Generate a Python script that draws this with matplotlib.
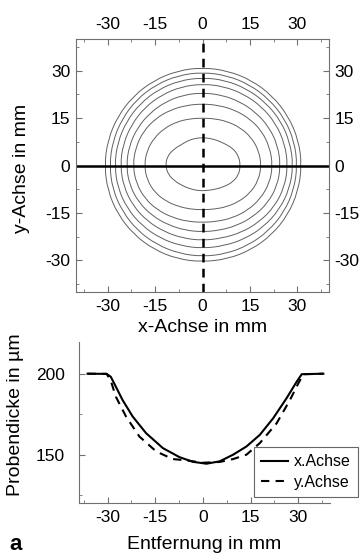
import numpy as np
import matplotlib
matplotlib.use("Agg")
import matplotlib.pyplot as plt
from matplotlib.ticker import MultipleLocator
from matplotlib.path import Path
from matplotlib.patches import PathPatch

plt.rcParams['font.family'] = ['Liberation Sans', 'DejaVu Sans']
plt.rcParams['axes.unicode_minus'] = False

# contour lines of the top map, radius (mm) read every 15 degrees, starting on +x, counter-clockwise
contour_angles = list(range(0, 360, 15))
contour_1 = [31.4, 31.4, 31.3, 31.2, 31.1, 31.0, 31.0, 31.0, 31.0, 31.0, 31.0, 31.0,
             31.0, 31.0, 30.9, 30.8, 30.7, 30.6, 30.5, 30.6, 30.8, 31.0, 31.2, 31.3]
contour_2 = [30.0, 30.0, 29.9, 29.7, 29.6, 29.5, 29.5, 29.5, 29.5, 29.5, 29.4, 29.4,
             29.4, 29.4, 29.2, 29.1, 28.9, 28.8, 28.8, 28.9, 29.1, 29.4, 29.7, 29.9]
contour_3 = [28.7, 28.6, 28.5, 28.2, 28.0, 27.9, 27.8, 27.8, 27.8, 27.8, 27.8, 27.8,
             27.8, 27.7, 27.4, 27.0, 26.6, 26.3, 26.2, 26.3, 26.8, 27.4, 28.0, 28.5]
contour_4 = [27.0, 26.9, 26.7, 26.4, 26.1, 25.9, 25.8, 25.8, 25.8, 25.9, 25.9, 26.0,
             26.0, 25.8, 25.4, 24.8, 24.2, 23.8, 23.7, 23.8, 24.5, 25.3, 26.2, 26.8]
contour_5 = [24.7, 24.6, 24.3, 23.8, 23.4, 23.1, 23.0, 23.1, 23.3, 23.5, 23.8, 24.0,
             24.1, 23.9, 23.3, 22.5, 21.7, 21.2, 21.0, 21.2, 21.9, 22.8, 23.8, 24.5]
contour_6 = [22.2, 22.0, 21.7, 21.0, 20.3, 19.7, 19.5, 19.7, 20.3, 21.0, 21.6, 21.9,
             22.0, 21.7, 21.0, 20.0, 19.0, 18.3, 18.0, 18.3, 19.1, 20.1, 21.1, 21.9]
contour_7 = [18.6, 18.4, 17.8, 16.9, 16.0, 15.3, 15.0, 15.3, 16.0, 16.8, 17.6, 18.2,
             18.4, 18.1, 17.3, 16.1, 15.0, 14.3, 14.0, 14.3, 15.1, 16.2, 17.4, 18.3]
contour_8 = [12.0, 11.8, 11.0, 9.8, 9.2, 8.9, 8.8, 8.9, 9.1, 9.4, 10.4, 11.5,
             11.7, 11.2, 10.0, 9.0, 8.4, 8.1, 8.0, 8.1, 8.6, 9.5, 10.8, 11.8]
contours = [contour_1, contour_2, contour_3, contour_4,
            contour_5, contour_6, contour_7, contour_8]

# thickness profiles (bottom plot)
x_pos = [-36.3, -30.3, -29.0, -27.9, -25.3, -22.1, -17.9, -12.6, -7.4, -3.2, 1.1,
         5.3, 9.5, 13.7, 17.9, 22.1, 26.3, 29.5, 31.1, 37.9]
x_thick = [200.3, 200.2, 198.4, 194.2, 184.0, 173.7, 163.4, 154.1, 148.5, 145.6, 144.4,
           145.9, 150.0, 155.1, 162.3, 172.6, 185.0, 195.3, 200.0, 200.3]
y_pos = [-36.3, -30.3, -29.0, -27.4, -24.2, -20.0, -14.7, -9.5, -5.3, 0.0,
         5.3, 9.5, 13.7, 17.9, 23.2, 27.4, 30.0, 31.6, 37.9]
y_thick = [200.3, 200.2, 196.0, 186.0, 173.7, 161.3, 152.0, 147.3, 146.5, 145.0,
           145.5, 147.3, 150.0, 157.2, 169.5, 184.0, 194.2, 200.0, 200.3]

ticks = [-30, -15, 0, 15, 30]
spine_col = '#707070'

fig = plt.figure(figsize=(3.62, 5.59), dpi=100)

# ---- top: contour map
ax1 = fig.add_axes([76/362, 1 - 292/559, 253/362, 253/559])
th = np.deg2rad(contour_angles)
for c in contours:
    r = np.array(c)
    pts = np.column_stack([r*np.cos(th), r*np.sin(th)])
    nxt = np.roll(pts, -1, axis=0)
    mids = (pts + nxt) / 2
    # smooth closed curve: quadratic bezier with the read points as control points
    verts = [mids[-1]]
    codes = [Path.MOVETO]
    for p, m in zip(pts, mids):
        verts += [p, m]
        codes += [Path.CURVE3, Path.CURVE3]
    ax1.add_patch(PathPatch(Path(verts, codes), fill=False, edgecolor='#606060', lw=0.7))
ax1.axhline(0, color='black', lw=1.8)
ax1.axvline(0, color='black', lw=1.8, linestyle=(0, (3.5, 2.5)))
ax1.set_xlim(-40, 40)
ax1.set_ylim(-40, 40)
ax1.set_xticks(ticks)
ax1.set_yticks(ticks)
ax1.xaxis.set_minor_locator(MultipleLocator(7.5))
ax1.yaxis.set_minor_locator(MultipleLocator(7.5))
ax1.tick_params(which='both', direction='in', top=True, right=True, bottom=True, left=True,
                labeltop=True, labelright=True, labelsize=12.5, color=spine_col)
ax1.tick_params(which='major', length=4, pad=5)
ax1.tick_params(which='minor', length=2)
ax1.tick_params(axis='y', which='major', pad=4)
for s in ax1.spines.values():
    s.set_color(spine_col)
    s.set_linewidth(0.8)
ax1.set_xlabel("x-Achse in mm", fontsize=14)
ax1.set_ylabel("y-Achse in mm", fontsize=14)
ax1.xaxis.set_label_coords(0.5, -0.107)
ax1.yaxis.set_label_coords(-0.18, 0.49)

# ---- bottom: thickness profiles
ax2 = fig.add_axes([79/362, 1 - 503/559, 251/362, 161/559])
ax2.plot(x_pos, x_thick, color='black', lw=1.5, label='x.Achse')
ax2.plot(y_pos, y_thick, color='black', lw=1.5, linestyle=(0, (4, 3)), label='y.Achse')
ax2.set_xlim(-39, 40)
ax2.set_ylim(120, 220)
ax2.set_xticks(ticks)
ax2.set_yticks([150, 200])
ax2.xaxis.set_minor_locator(MultipleLocator(7.5))
ax2.yaxis.set_minor_locator(MultipleLocator(25))
ax2.spines['top'].set_visible(False)
ax2.spines['right'].set_visible(False)
for s in ['left', 'bottom']:
    ax2.spines[s].set_color(spine_col)
    ax2.spines[s].set_linewidth(0.8)
ax2.tick_params(which='both', direction='in', labelsize=12.5, color=spine_col)
ax2.tick_params(which='major', length=4)
ax2.tick_params(axis='x', pad=5)
ax2.tick_params(axis='y', pad=10)
ax2.set_xlabel("Entfernung in mm", fontsize=14)
ax2.set_ylabel("Probendicke in µm", fontsize=14)
ax2.xaxis.set_label_coords(0.5, -0.205)
ax2.yaxis.set_label_coords(-0.22, 0.55)

leg = fig.legend(loc='upper left', bbox_to_anchor=(254/362, 1 - 447/559), fontsize=11.5,
                 frameon=True, fancybox=False, handlelength=1.7, handletextpad=0.35,
                 borderpad=0.45, labelspacing=0.35, borderaxespad=0)
leg.get_frame().set_edgecolor('#404040')
leg.get_frame().set_linewidth(0.8)

fig.text(16/362, 1 - 545/559, "a", fontsize=16, fontweight='bold', ha='center', va='center')

fig.savefig("out.png", dpi=100)
